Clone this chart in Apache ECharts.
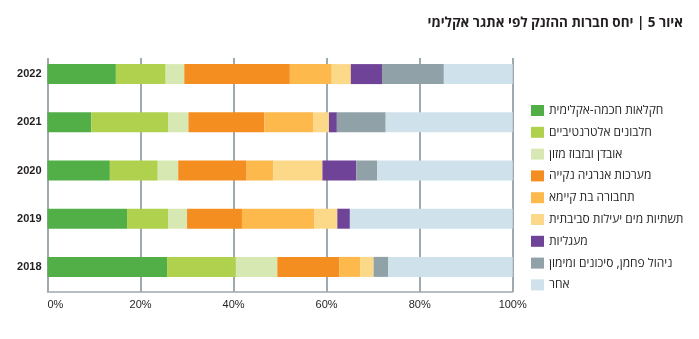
<!DOCTYPE html>
<html>
<head>
<meta charset="utf-8">
<script src="https://cdn.jsdelivr.net/npm/echarts@6/dist/echarts.min.js"></script>
<style>html,body{margin:0;padding:0;background:#fff}#c{width:699px;height:339px}</style>
</head>
<body>
<div id="c"></div>
<script>
const titleText = 'איור 5 | יחס חברות ההזנק לפי אתגר אקלימי';
const years = ['2018', '2019', '2020', '2021', '2022'];
const xTicks = [0, 20, 40, 60, 80, 100];
const names = [
  'חקלאות חכמה-אקלימית',
  'חלבונים אלטרנטיביים',
  'אובדן ובזבוז מזון',
  'מערכות אנרגיה נקייה',
  'תחבורה בת קיימא',
  'תשתיות מים יעילות סביבתית',
  'מעגליות',
  'ניהול פחמן, סיכונים ומימון',
  'אחר'
];
const colors = ['#52ae47', '#afd14d', '#d8e8b2', '#f58e21', '#fdb94b', '#fcd889', '#6f4397', '#90a1a7', '#cfe1ea'];
const agri      = [25.7, 17.1, 13.4, 9.4, 14.7];
const protein   = [14.8, 8.8, 10.3, 16.5, 10.7];
const foodLoss  = [8.9, 4.1, 4.4, 4.4, 4.0];
const energy    = [13.3, 11.8, 14.7, 16.3, 22.7];
const transport = [4.5, 15.5, 5.7, 10.6, 9.0];
const water     = [2.9, 5.0, 10.6, 3.3, 4.1];
const circular  = [0, 2.7, 7.3, 1.7, 6.7];
const carbon    = [3.1, 0, 4.5, 10.5, 13.3];
const other     = [26.8, 35.0, 29.1, 27.3, 14.8];
const values = [agri, protein, foodLoss, energy, transport, water, circular, carbon, other];

const chart = echarts.init(document.getElementById('c'), null, {renderer: 'canvas'});
const gridColor = '#9ea9b0';
const option = {
  animation: false,
  backgroundColor: '#fff',
  title: {
    text: titleText,
    right: 16, top: 16, padding: 0,
    textStyle: {fontSize: 13.5, fontWeight: 'bold', color: '#231f20', fontFamily: 'Open Sans, Liberation Sans, sans-serif'}
  },
  legend: {
    orient: 'vertical',
    left: 531, top: 104.5, padding: 0,
    itemWidth: 13, itemHeight: 11, itemGap: 9.8,
    icon: 'rect',
    data: names,
    textStyle: {fontSize: 12, lineHeight: 12, color: '#231f20', fontFamily: 'Open Sans, Liberation Sans, sans-serif'}
  },
  grid: [
    {left: 47.5, right: 186.3, top: 50, height: 241},
    {left: 47.5, right: 186.3, top: 58, bottom: 47}
  ],
  xAxis: [
    {gridIndex: 0, type: 'value', min: 0, max: 100, show: false},
    {
      gridIndex: 1, type: 'value', min: xTicks[0], max: xTicks[xTicks.length - 1], interval: 20,
      axisLine: {show: true, lineStyle: {color: gridColor, width: 1.5}},
      axisTick: {show: false},
      splitLine: {show: true, lineStyle: {color: gridColor, width: 2}},
      axisLabel: {
        formatter: '{value}%', margin: 7, fontSize: 11, color: '#231f20',
        fontFamily: 'Liberation Sans Narrow, Liberation Sans, sans-serif',
        alignMinLabel: 'left'
      }
    }
  ],
  yAxis: [
    {
      gridIndex: 0, type: 'category', data: years,
      axisLine: {show: false}, axisTick: {show: false}, splitLine: {show: false},
      axisLabel: {margin: 6, fontSize: 11, fontWeight: 'bold', color: '#231f20',
        fontFamily: 'Liberation Sans Narrow, Liberation Sans, sans-serif'}
    },
    {gridIndex: 1, type: 'value', min: 0, max: 1, show: false}
  ],
  series: names.map((n, i) => ({
    name: n,
    type: 'bar',
    stack: 'total',
    xAxisIndex: 0, yAxisIndex: 0,
    barWidth: 20,
    itemStyle: {color: colors[i]},
    data: values[i],
    z: 3
  }))
};
chart.setOption(option);
</script>
</body>
</html>
